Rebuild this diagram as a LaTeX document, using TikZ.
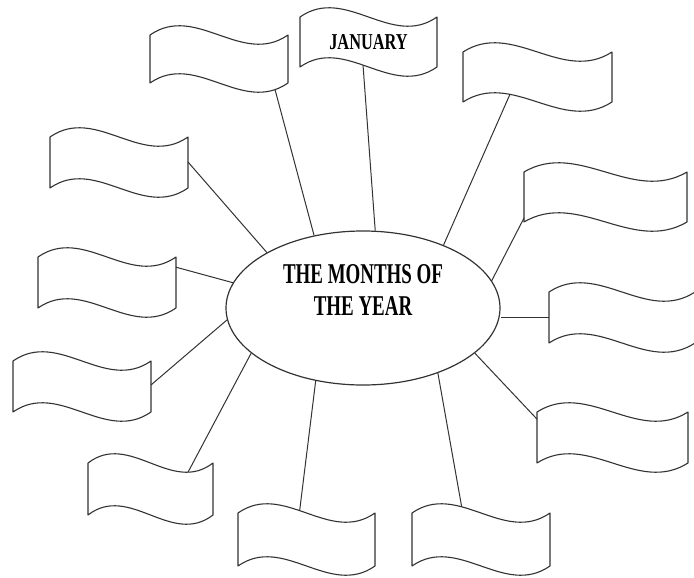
\documentclass[tikz,border=0pt]{standalone}
\usepackage{fontspec}
\setmainfont{Liberation Serif}
\usepackage{graphicx}
\usetikzlibrary{shapes.geometric}
\newcommand\wamp{32}
\newcommand\wflag[7]{%
  \draw[flagline] (#2,#3) .. controls ({#2+#4/3},{#3-\wamp}) and ({#2+2*#4/3},{#3+\wamp}) .. coordinate[pos=#7] (#1-t) ({#2+#4},#3)
    -- ({#2+#4},{#3+#5})
    .. controls ({#2+2*#4/3},{#3+#5+\wamp}) and ({#2+#4/3},{#3+#5-\wamp}) .. coordinate[pos=#7] (#1-b) (#2,{#3+#5})
    -- cycle;
  \coordinate (#1-l) at (#2,{#3+#7*#5});
  \coordinate (#1-r) at ({#2+#4},{#3+#7*#5});
  \node[flagtext] (#1) at ({#2+#4/2},{#3+#5/2}) {#6};
}
\begin{document}
\begin{tikzpicture}[x=1pt,y=-1pt,
  flagline/.style={draw=black!80, line width=1.1pt, line join=round, fill=white},
  flagtext/.style={inner sep=0pt, font=\fontsize{22.7}{24}\selectfont\bfseries},
  conn/.style={draw=black!80, line width=1pt},
  ell/.style={ellipse, draw=black!80, line width=1.2pt, inner sep=0pt, minimum width=274pt, minimum height=154pt},
  titletext/.style={inner sep=0pt, align=center, font=\fontsize{28.7}{31.5}\selectfont\bfseries}]
\fill[white] (0,0) rectangle (694,578);
\useasboundingbox (0,0) rectangle (694,578);

\wflag{fa}{150}{35}{138}{48}{}{0.094}
\wflag{jan}{300}{17}{137}{50}{\scalebox{0.72}[1]{JANUARY}}{0.54}
\wflag{fb}{463}{52}{149}{50}{}{0.685}
\wflag{fc}{50}{137}{138}{51}{}{0.49}
\wflag{fd}{524}{172}{163}{50}{}{0.92}
\wflag{fe}{38}{257}{138}{51}{}{0.2}
\wflag{ff}{549}{292}{146}{51}{}{0.5}
\wflag{fg}{13}{361}{138}{51}{}{0.47}
\wflag{fh}{88}{463}{125}{52}{}{0.8}
\wflag{fi}{238}{513}{137}{53}{}{0.45}
\wflag{fj}{412}{513}{138}{53}{}{0.36}
\wflag{fk}{537}{412}{151}{51}{}{0.14}

\node[ell] (e) at (363,308) {};
\node[titletext] (title) at (363,290) {\scalebox{0.66}[1]{THE MONTHS OF}\\\scalebox{0.66}[1]{THE YEAR}};

\draw[conn] (fa-b) -- (e.124);
\draw[conn] (jan-b) -- (e.81);
\draw[conn] (fb-b) -- (e.38.6);
\draw[conn] (fc-r) -- (e.150);
\draw[conn] (fd-l) -- (e.12.4);
\draw[conn] (fe-r) -- (e.169);
\draw[conn] (ff-l) -- (ff-l -| e.east);
\draw[conn] (fg-r) -- (e.185);
\draw[conn] (fh-t) -- (e.202);
\draw[conn] (fi-t) -- (e.237);
\draw[conn] (fj-t) -- (e.319.5);
\draw[conn] (fk-l) -- (e.338.5);
\end{tikzpicture}
\end{document}
